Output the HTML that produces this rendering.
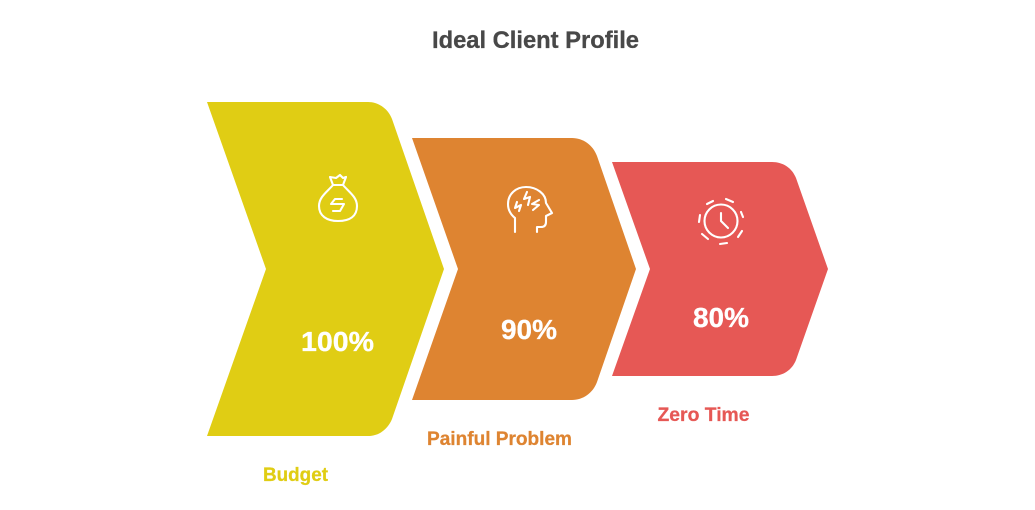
<!DOCTYPE html>
<html><head><meta charset="utf-8"><style>
html,body{margin:0;padding:0;background:#fff}
svg{display:block}
text{font-family:"Liberation Sans",Arial,sans-serif;font-weight:700}
.i{fill:none;stroke:#fff;stroke-width:2.1;stroke-linecap:round;stroke-linejoin:round}
</style></head><body>
<svg width="1035" height="510" viewBox="0 0 1035 510" xmlns="http://www.w3.org/2000/svg">
<rect width="1035" height="510" fill="#fff"/>
<text x="535.5" y="48" text-anchor="middle" font-size="24" fill="#484848" stroke="#484848" stroke-width=".3" textLength="207" lengthAdjust="spacingAndGlyphs">Ideal Client Profile</text>
<path d="M207 102H368C379 102 388 109 392 119L444 269L392 419C388 429 379 436 368 436H207L266 269Z" fill="#e0cd14"/>
<path d="M412 138H572C583 138 593 145 597 156L636 269L597 382C593 393 583 400 572 400H412L458 269Z" fill="#de8431"/>
<path d="M612 162H772C783 162 792 168 796 178L828 269L796 360C792 370 783 376 772 376H612L650 269Z" fill="#e65855"/>
<g class="i">
<g transform="translate(1,1)">
<path d="M332 184L329 176L335 177L339 174L342 177L345 176L342 184Z"/>
<path d="M332 184C326 191 318 196 318 205C318 215 326 220 337 220C349 220 356 215 356 205C356 196 348 191 342 184"/>
<path d="M341 198H334L330 203H343L339 210H332"/>
</g>
<g transform="translate(1,0)">
<path d="M514 232V218C509 214 507 209 507 204C507 194 515 187 525 187C536 187 545 194 545 203L551 213L545 216V222Q545 227 540 227H536V232"/>
<path d="M516 202L514 208L520 205L518 211"/>
<path d="M526 192L523 199L529 197L527 205"/>
<path d="M538 200L531 204L538 205L532 210"/>
</g>
<circle cx="721" cy="221" r="16.5"/>
<path d="M721 213V221L728 228"/>
<path d="M707 204L713 201M726 199L733 202M741 212L743 217M742 231L738 237M727 243L720 244M708 239L702 234M699 222L700 215"/>
</g>
<text x="337.5" y="351" text-anchor="middle" font-size="28" fill="#fff" stroke="#fff" stroke-width=".3" textLength="73" lengthAdjust="spacingAndGlyphs">100%</text>
<text x="529" y="339" text-anchor="middle" font-size="28" fill="#fff" stroke="#fff" stroke-width=".3" textLength="56" lengthAdjust="spacingAndGlyphs">90%</text>
<text x="721" y="327" text-anchor="middle" font-size="28" fill="#fff" stroke="#fff" stroke-width=".3" textLength="56" lengthAdjust="spacingAndGlyphs">80%</text>
<text x="295.5" y="481" text-anchor="middle" font-size="19" fill="#e0cd14" stroke="#e0cd14" stroke-width=".25" textLength="65" lengthAdjust="spacingAndGlyphs">Budget</text>
<text x="499.5" y="445" text-anchor="middle" font-size="19" fill="#de8431" stroke="#de8431" stroke-width=".25" textLength="145" lengthAdjust="spacingAndGlyphs">Painful Problem</text>
<text x="703.5" y="421" text-anchor="middle" font-size="19" fill="#e65855" stroke="#e65855" stroke-width=".25" textLength="92" lengthAdjust="spacingAndGlyphs">Zero Time</text>
</svg>
</body></html>
